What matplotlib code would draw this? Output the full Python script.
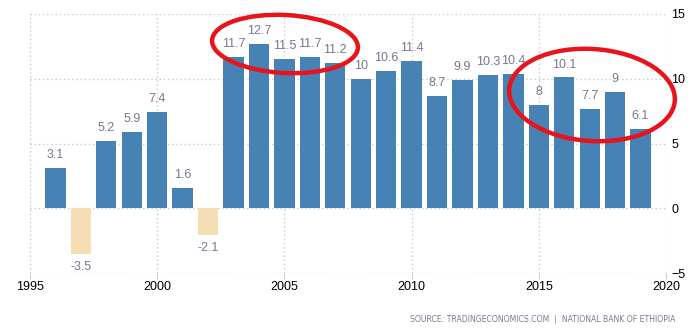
import matplotlib.pyplot as plt
from matplotlib.patches import Ellipse
from matplotlib.transforms import IdentityTransform

plt.rcParams['font.family'] = ['Liberation Sans', 'DejaVu Sans']

years = list(range(1996, 2020))
growth = [3.1, -3.5, 5.2, 5.9, 7.4, 1.6, -2.1, 11.7, 12.7, 11.5, 11.7, 11.2,
          10, 10.6, 11.4, 8.7, 9.9, 10.3, 10.4, 8, 10.1, 7.7, 9, 6.1]
labels = ['3.1', '-3.5', '5.2', '5.9', '7.4', '1.6', '-2.1', '11.7', '12.7', '11.5',
          '11.7', '11.2', '10', '10.6', '11.4', '8.7', '9.9', '10.3', '10.4', '8',
          '10.1', '7.7', '9', '6.1']
xticks = [1995, 2000, 2005, 2010, 2015, 2020]
yticks = [-5, 0, 5, 10, 15]

fig = plt.figure(figsize=(6.98, 3.29), dpi=100)
ax = fig.add_axes([30 / 698, 1 - 273 / 329, 636 / 698, 259 / 329])

colors = ['#4682b4' if v >= 0 else '#f5deb3' for v in growth]
ax.bar(years, growth, width=0.8, color=colors, zorder=2)

for x, v, t in zip(years, growth, labels):
    if v >= 0:
        ax.annotate(t, (x, v), xytext=(0, 5), textcoords='offset points',
                    ha='center', va='bottom', fontsize=9, color='#77778f')
    else:
        ax.annotate(t, (x, v), xytext=(0, -5), textcoords='offset points',
                    ha='center', va='top', fontsize=9, color='#77778f')

ax.set_xlim(1995, 2020)
ax.set_ylim(-5, 15)
ax.set_xticks(xticks)
ax.set_yticks(yticks)
ax.yaxis.tick_right()
ax.tick_params(axis='y', length=0, labelsize=9, pad=4)
ax.tick_params(axis='x', length=4, color='#cccccc', labelsize=9, pad=2)
for s in ax.spines.values():
    s.set_visible(False)
ax.grid(True, linestyle=(0, (1, 2)), color='#c8c8c8', linewidth=1, zorder=0)

# hand-drawn red circles
tr = IdentityTransform()
ax.add_patch(Ellipse((285, 329 - 44), 146, 58, angle=-3, fill=False,
                     edgecolor='#e8141c', linewidth=3.2, transform=tr, clip_on=False, zorder=5))
ax.add_patch(Ellipse((592, 329 - 95), 166, 92, angle=-4, fill=False,
                     edgecolor='#e8141c', linewidth=3.2, transform=tr, clip_on=False, zorder=5))

fig.text(675 / 698, 1 - 319 / 329,
         'SOURCE: TRADINGECONOMICS.COM  |  NATIONAL BANK OF ETHIOPIA',
         ha='right', va='center', fontsize=5.6, color='#7a7a96', family='DejaVu Sans')

fig.savefig('out.png', dpi=100)
